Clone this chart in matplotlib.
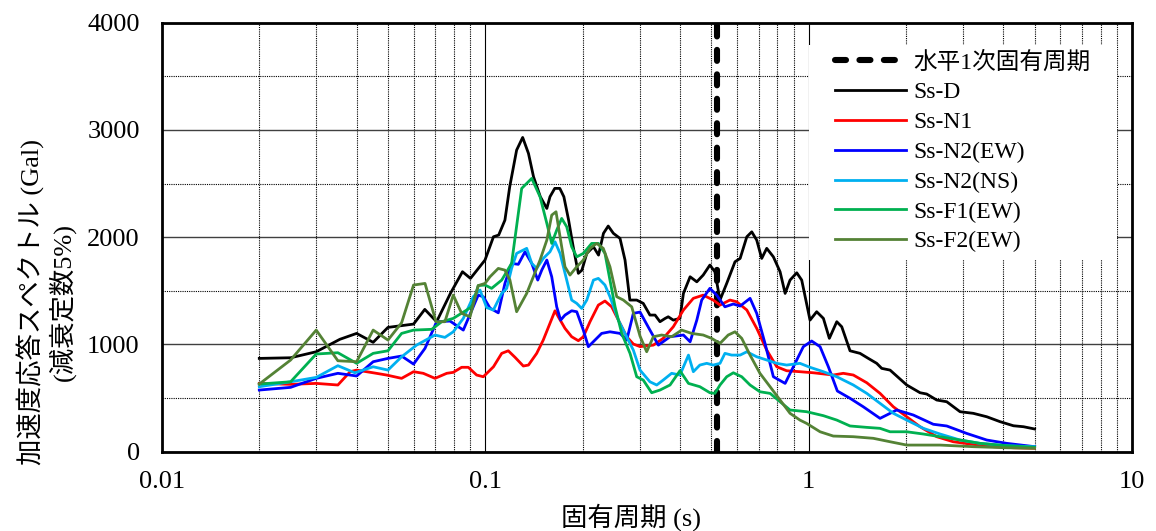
import matplotlib
matplotlib.use('Agg')
import matplotlib.pyplot as plt
from matplotlib.patches import Rectangle
from matplotlib.ticker import LogLocator, MultipleLocator, NullFormatter, FixedLocator, FixedFormatter

plt.rcParams['font.family'] = ['Liberation Serif', 'Noto Sans CJK JP']

# natural period (s) of the building
t_nat = 0.52

# Ss-D
t_d = [0.020, 0.025, 0.030, 0.0355, 0.040, 0.045, 0.050, 0.060, 0.065, 0.0707, 0.078, 0.085, 0.090, 0.0998,
       0.106, 0.110, 0.115, 0.119, 0.125, 0.1305, 0.136, 0.141, 0.148, 0.155, 0.1585, 0.164, 0.170, 0.175,
       0.181, 0.187, 0.194, 0.199, 0.206, 0.216, 0.224, 0.232, 0.240, 0.249, 0.261, 0.2705, 0.280, 0.294,
       0.308, 0.323, 0.335, 0.347, 0.360, 0.368, 0.3815, 0.400, 0.410, 0.430, 0.451, 0.472, 0.495, 0.513,
       0.532, 0.558, 0.592, 0.614, 0.644, 0.667, 0.691, 0.716, 0.742, 0.778, 0.816, 0.846, 0.876, 0.919,
       0.952, 1.010, 1.059, 1.111, 1.159, 1.222, 1.266, 1.343, 1.442, 1.53, 1.624, 1.683, 1.786, 2.011,
       2.211, 2.318, 2.49, 2.674, 2.94, 3.23, 3.556, 3.91, 4.30, 4.62, 5.0]
v_d = [870, 876, 932, 1048, 1103, 1020, 1159, 1190, 1327, 1212, 1476, 1678, 1616, 1787,
       2004, 2020, 2159, 2470, 2812, 2930, 2781, 2563, 2377, 2268, 2377, 2455, 2455, 2377,
       2159, 1911, 1663, 1693, 1849, 1911, 1833, 2036, 2104, 2036, 1989, 1787, 1414, 1414,
       1383, 1274, 1274, 1212, 1243, 1258, 1227, 1243, 1476, 1631, 1584, 1647, 1740, 1678,
       1414, 1569, 1771, 1802, 2004, 2050, 1973, 1802, 1896, 1817, 1678, 1476, 1600, 1668,
       1600, 1227, 1305, 1243, 1057, 1212, 1165, 941, 917, 870, 824, 777, 761, 622,
       550, 538, 482, 466, 373, 358, 326, 280, 242, 233, 212]

# Ss-N1
t_n1 = [0.020, 0.025, 0.030, 0.035, 0.0382, 0.040, 0.045, 0.0495, 0.0551, 0.060, 0.0643, 0.0699, 0.076,
        0.0796, 0.0845, 0.0886, 0.094, 0.0986, 0.106, 0.1124, 0.1178, 0.1236, 0.1311, 0.136, 0.1442,
        0.1511, 0.1585, 0.1643, 0.1682, 0.1764, 0.185, 0.194, 0.201, 0.2108, 0.2237, 0.2345, 0.246,
        0.261, 0.2738, 0.287, 0.301, 0.331, 0.355, 0.3815, 0.410, 0.440, 0.472, 0.507, 0.532, 0.571,
        0.599, 0.644, 0.691, 0.742, 0.797, 0.855, 0.940, 1.034, 1.192, 1.28, 1.375, 1.513, 1.663,
        1.828, 2.011, 2.211, 2.49, 2.80, 3.15, 3.73, 4.30, 5.0]
v_n1 = [637, 628, 637, 622, 746, 761, 736, 715, 684, 746, 731, 684, 731,
        740, 787, 787, 715, 699, 792, 917, 941, 880, 799, 808, 917,
        1041, 1197, 1314, 1258, 1150, 1072, 1035, 1072, 1212, 1367, 1405, 1351,
        1197, 1072, 1004, 980, 994, 1057, 1165, 1321, 1430, 1460, 1414, 1367, 1414,
        1398, 1321, 1150, 948, 792, 755, 746, 736, 715, 731, 715, 643, 544,
        419, 326, 233, 140, 93, 72, 47, 37, 32]

# Ss-N2(EW)
t_n2ew = [0.020, 0.025, 0.030, 0.035, 0.040, 0.045, 0.050, 0.0551, 0.060, 0.0651, 0.0707, 0.0778, 0.0855,
          0.0951, 0.0986, 0.1034, 0.1097, 0.115, 0.1206, 0.1265, 0.1327, 0.1392, 0.1453, 0.1495, 0.155,
          0.1605, 0.1663, 0.171, 0.1764, 0.185, 0.1918, 0.201, 0.2083, 0.2184, 0.229, 0.243, 0.261,
          0.2738, 0.287, 0.301, 0.323, 0.343, 0.3727, 0.410, 0.430, 0.451, 0.467, 0.495, 0.5195, 0.551,
          0.585, 0.614, 0.659, 0.691, 0.733, 0.778, 0.846, 0.897, 0.963, 1.022, 1.085, 1.151, 1.227,
          1.343, 1.476, 1.663, 1.873, 2.108, 2.43, 2.674, 3.08, 3.556, 4.10, 5.0]
v_n2ew = [575, 600, 684, 731, 706, 839, 870, 892, 817, 964, 1212, 1218, 1134,
          1460, 1445, 1339, 1295, 1569, 1756, 1747, 1864, 1756, 1600, 1693, 1787,
          1631, 1351, 1227, 1274, 1314, 1305, 1134, 979, 1041, 1103, 1118, 1103,
          1041, 1290, 1302, 1134, 994, 1072, 1088, 1025, 1227, 1414, 1523, 1460, 1351,
          1377, 1358, 1430, 1290, 1010, 699, 637, 792, 979, 1032, 979, 792, 566,
          498, 419, 311, 389, 342, 256, 240, 171, 109, 78, 47]

# Ss-N2(NS)
t_n2ns = [0.020, 0.025, 0.030, 0.035, 0.0395, 0.045, 0.050, 0.0551, 0.0613, 0.0699, 0.075, 0.0796, 0.0855,
          0.0918, 0.0963, 0.101, 0.1059, 0.1124, 0.1165, 0.1206, 0.125, 0.1343, 0.1392, 0.1442, 0.1511,
          0.1585, 0.1643, 0.1703, 0.1786, 0.185, 0.1918, 0.1987, 0.206, 0.216, 0.2237, 0.2345, 0.243,
          0.258, 0.2705, 0.287, 0.301, 0.323, 0.339, 0.355, 0.377, 0.400, 0.425, 0.440, 0.461, 0.484,
          0.507, 0.532, 0.551, 0.578, 0.614, 0.644, 0.691, 0.742, 0.797, 0.855, 0.940, 1.010, 1.111,
          1.222, 1.375, 1.513, 1.663, 1.828, 2.011, 2.264, 2.55, 2.94, 3.39, 4.10, 5.0]
v_n2ns = [606, 652, 693, 802, 736, 792, 761, 885, 994, 1088, 1066, 1118, 1243,
          1445, 1507, 1344, 1321, 1476, 1523, 1709, 1849, 1896, 1756, 1709, 1802,
          1864, 1957, 1849, 1600, 1414, 1383, 1336, 1414, 1600, 1616, 1554, 1445,
          1227, 1103, 947, 761, 652, 622, 668, 731, 715, 901, 746, 808, 824,
          808, 824, 917, 901, 901, 932, 885, 855, 824, 808, 824, 787, 746,
          699, 622, 544, 451, 358, 295, 218, 165, 109, 78, 56, 47]

# Ss-F1(EW)
t_f1 = [0.020, 0.025, 0.030, 0.035, 0.040, 0.045, 0.050, 0.0551, 0.060, 0.0683, 0.0733, 0.0796, 0.0876,
        0.0908, 0.0951, 0.0998, 0.1046, 0.1124, 0.1206, 0.1296, 0.1392, 0.1477, 0.155, 0.1605, 0.1663,
        0.1723, 0.1786, 0.185, 0.1918, 0.201, 0.2133, 0.2237, 0.2345, 0.243, 0.252, 0.2642, 0.2803,
        0.294, 0.308, 0.327, 0.347, 0.3727, 0.400, 0.425, 0.461, 0.495, 0.513, 0.532, 0.558, 0.585,
        0.621, 0.659, 0.707, 0.760, 0.816, 0.876, 0.986, 1.111, 1.222, 1.343, 1.513, 1.663, 1.786,
        2.011, 2.264, 2.55, 2.94, 3.39, 4.10, 5.0]
v_f1 = [631, 652, 911, 923, 824, 917, 941, 1103, 1134, 1141, 1212, 1243, 1321,
        1351, 1549, 1554, 1523, 1600, 1756, 2455, 2548, 2377, 2129, 1942, 2066,
        2175, 2097, 1911, 1817, 1849, 1942, 1942, 1849, 1600, 1351, 1103, 917,
        699, 668, 550, 575, 622, 755, 637, 606, 550, 544, 622, 699, 736,
        699, 622, 559, 544, 466, 389, 373, 336, 295, 240, 227, 218, 186,
        186, 165, 140, 109, 78, 56, 41]

# Ss-F2(EW)
t_f2 = [0.020, 0.025, 0.030, 0.035, 0.040, 0.045, 0.050, 0.0551, 0.060, 0.0651, 0.0704, 0.075, 0.0796,
        0.0845, 0.0897, 0.0951, 0.0998, 0.1034, 0.1097, 0.115, 0.1192, 0.125, 0.1343, 0.1408, 0.1477,
        0.155, 0.1605, 0.1655, 0.1703, 0.1764, 0.1828, 0.1918, 0.201, 0.2108, 0.2211, 0.2317, 0.243,
        0.255, 0.2673, 0.2837, 0.301, 0.3156, 0.331, 0.351, 0.377, 0.405, 0.435, 0.472, 0.501, 0.532,
        0.564, 0.592, 0.621, 0.659, 0.707, 0.760, 0.816, 0.876, 0.940, 0.986, 1.085, 1.192, 1.375,
        1.585, 1.786, 2.011, 2.55, 3.23, 4.10, 5.0]
v_f2 = [631, 855, 1134, 848, 839, 1134, 1041, 1202, 1554, 1569, 1212, 1212, 1460,
        1290, 1258, 1549, 1569, 1631, 1709, 1693, 1600, 1305, 1476, 1631, 1787,
        1973, 2206, 2237, 2004, 1724, 1647, 1724, 1787, 1896, 1942, 1896, 1724,
        1445, 1414, 1351, 1078, 932, 1072, 1088, 1072, 1134, 1103, 1088, 1057, 1010,
        1088, 1118, 1057, 901, 731, 606, 482, 358, 295, 264, 186, 146, 140,
        125, 93, 62, 62, 47, 37, 32]

labels = ['Ss-D', 'Ss-N1', 'Ss-N2(EW)', 'Ss-N2(NS)', 'Ss-F1(EW)', 'Ss-F2(EW)']
colors = ['#000000', '#FF0000', '#0000FF', '#00B0F0', '#00B050', '#548235']
series = [(t_d, v_d), (t_n1, v_n1), (t_n2ew, v_n2ew), (t_n2ns, v_n2ns), (t_f1, v_f1), (t_f2, v_f2)]

fig = plt.figure(figsize=(11.56, 5.31), dpi=100)
ax = fig.add_axes([0.1401, 0.1493, 0.8391, 0.808])

ax.axvline(t_nat, color='black', lw=4.4, linestyle=(0, (1.8, 2.2)), dash_capstyle='round',
           label='水平1次固有周期', zorder=3)
for (t, v), lab, c in zip(series, labels, colors):
    ax.plot(t, v, color=c, lw=2.0, label=lab, zorder=4)

ax.set_xscale('log')
ax.set_xlim(0.01, 10)
ax.set_ylim(0, 4000)
ax.xaxis.set_major_locator(FixedLocator([0.01, 0.1, 1, 10]))
ax.xaxis.set_major_formatter(FixedFormatter(['0.01', '0.1', '1', '10']))
ax.xaxis.set_minor_locator(LogLocator(base=10, subs=[2, 3, 4, 5, 6, 7, 8, 9]))
ax.xaxis.set_minor_formatter(NullFormatter())
ax.yaxis.set_major_locator(MultipleLocator(1000))
ax.yaxis.set_minor_locator(MultipleLocator(500))

ax.grid(True, which='major', axis='x', color='black', lw=0.8, ls='-')
ax.grid(True, which='minor', axis='x', color='black', lw=0.8, ls=(0, (1, 1)))
ax.grid(True, which='major', axis='y', color='#404040', lw=1.0, ls='-')
ax.grid(True, which='minor', axis='y', color='black', lw=0.8, ls=(0, (1, 1)))
ax.set_axisbelow(True)

ax.tick_params(which='both', length=0)
ax.tick_params(axis='y', labelsize=19, pad=16)
ax.tick_params(axis='x', labelsize=19, pad=14)
for s in ax.spines.values():
    s.set_linewidth(2.0)

ax.set_xlabel('固有周期 (s)', fontsize=19, va='center')
ax.xaxis.set_label_coords(0.4836, -0.152)
ax.set_ylabel('加速度応答スペクトル (Gal)\n(減衰定数5%)', fontsize=19, linespacing=1.15, va='center')
ax.yaxis.set_label_coords(-0.1196, 0.35)

# white area behind the legend (grid is hidden there)
ax.add_patch(Rectangle((0.667, 0.447), 0.3176, 0.501, transform=ax.transAxes,
                       facecolor='white', edgecolor='none', zorder=2))
leg = ax.legend(loc='upper left', bbox_to_anchor=(0.694, 0.933), fontsize=17, frameon=False,
                handlelength=3.0, handletextpad=0.3, labelspacing=0.35, borderpad=0,
                borderaxespad=0)
leg.set_zorder(5)

fig.savefig('out.png', dpi=100)
